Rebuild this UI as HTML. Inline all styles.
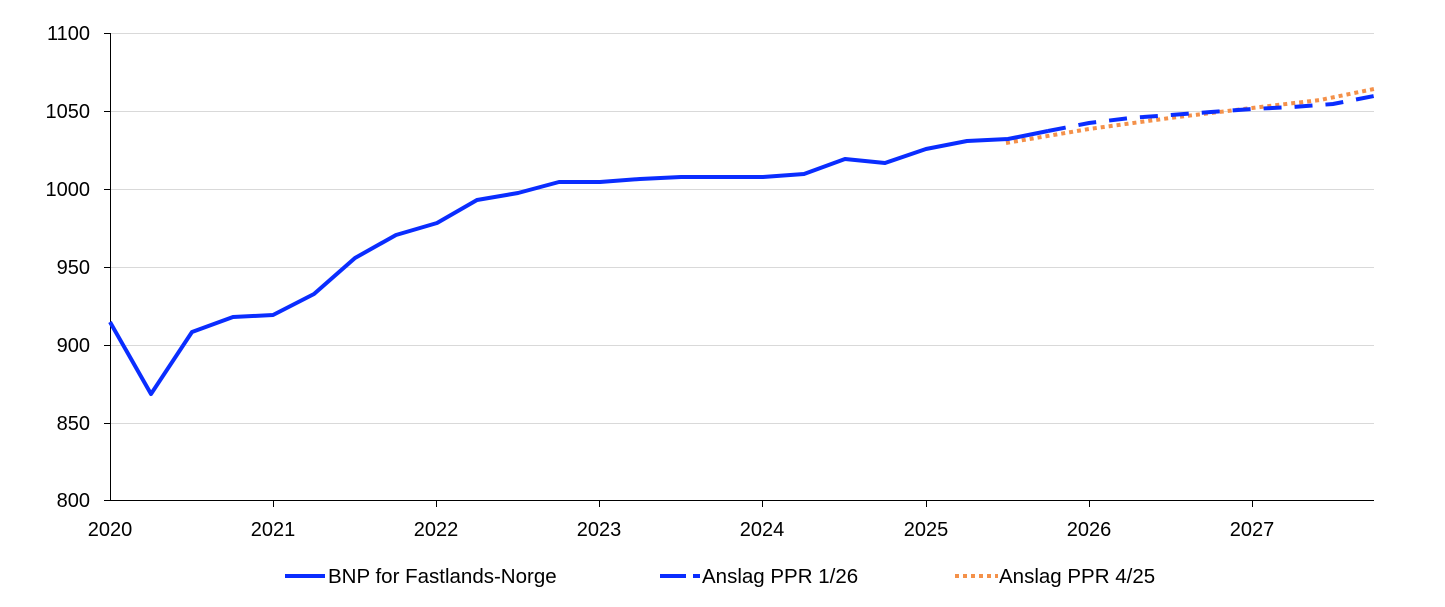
<!DOCTYPE html>
<html><head><meta charset="utf-8"><style>body{margin:0;background:#fff}svg{display:block;font-family:"Liberation Sans",Arial,sans-serif}</style></head><body>
<svg width="1445" height="607" xmlns="http://www.w3.org/2000/svg">
<g stroke="#d9d9d9" stroke-width="1">
<line x1="110" x2="1374" y1="33.5" y2="33.5"/><line x1="110" x2="1374" y1="111.5" y2="111.5"/><line x1="110" x2="1374" y1="189.5" y2="189.5"/><line x1="110" x2="1374" y1="267.5" y2="267.5"/><line x1="110" x2="1374" y1="345.5" y2="345.5"/><line x1="110" x2="1374" y1="423.5" y2="423.5"/>
</g>
<g stroke="#000" stroke-width="1">
<line x1="110.5" y1="33" x2="110.5" y2="501"/><line x1="110" y1="500.5" x2="1374" y2="500.5"/>
<line x1="104" x2="110" y1="33.5" y2="33.5"/><line x1="104" x2="110" y1="111.5" y2="111.5"/><line x1="104" x2="110" y1="189.5" y2="189.5"/><line x1="104" x2="110" y1="267.5" y2="267.5"/><line x1="104" x2="110" y1="345.5" y2="345.5"/><line x1="104" x2="110" y1="423.5" y2="423.5"/><line x1="104" x2="110" y1="500.5" y2="500.5"/>
<line x1="273.5" x2="273.5" y1="500" y2="507"/><line x1="436.5" x2="436.5" y1="500" y2="507"/><line x1="599.5" x2="599.5" y1="500" y2="507"/><line x1="762.5" x2="762.5" y1="500" y2="507"/><line x1="926.5" x2="926.5" y1="500" y2="507"/><line x1="1089.5" x2="1089.5" y1="500" y2="507"/><line x1="1252.5" x2="1252.5" y1="500" y2="507"/>
</g>
<g font-size="20" fill="#000" text-anchor="end">
<text x="90" y="40">1100</text><text x="90" y="118">1050</text><text x="90" y="196">1000</text><text x="90" y="274">950</text><text x="90" y="352">900</text><text x="90" y="430">850</text><text x="90" y="507">800</text>
</g>
<g font-size="20" fill="#000" text-anchor="middle">
<text x="110" y="536">2020</text><text x="273" y="536">2021</text><text x="436" y="536">2022</text><text x="599" y="536">2023</text><text x="762" y="536">2024</text><text x="926" y="536">2025</text><text x="1089" y="536">2026</text><text x="1252" y="536">2027</text>
</g>
<polyline fill="none" stroke="#f4914a" stroke-width="4" stroke-dasharray="4 4" points="1006,143 1089,129 1170,118 1252,108 1320,100 1374,89"/>
<polyline fill="none" stroke="#0a2dff" stroke-width="4" stroke-dasharray="18 13" points="1048,131 1089,123 1130,118 1171,115 1211,112 1252,109 1293,107 1333,104 1374,96"/>
<polyline fill="none" stroke="#0a2dff" stroke-width="4" stroke-linejoin="round" points="110,322 151,394 192,332 233,317 273,315 314,294 355,258 396,235 437,223 477,200 518,193 559,182 600,182 640,179 681,177 722,177 763,177 804,174 845,159 885,163 926,149 967,141 1008,139 1048,131"/>
<line x1="285" x2="325" y1="576" y2="576" stroke="#0a2dff" stroke-width="4"/>
<line x1="660" x2="686" y1="576" y2="576" stroke="#0a2dff" stroke-width="4"/><line x1="693" x2="700" y1="576" y2="576" stroke="#0a2dff" stroke-width="4"/>
<line x1="955" x2="998" y1="576" y2="576" stroke="#f4914a" stroke-width="4" stroke-dasharray="4 4"/>
<g font-size="20.5" fill="#000">
<text x="328" y="583">BNP for Fastlands-Norge</text><text x="702" y="583">Anslag PPR 1/26</text><text x="999" y="583">Anslag PPR 4/25</text>
</g>
</svg>
</body></html>
